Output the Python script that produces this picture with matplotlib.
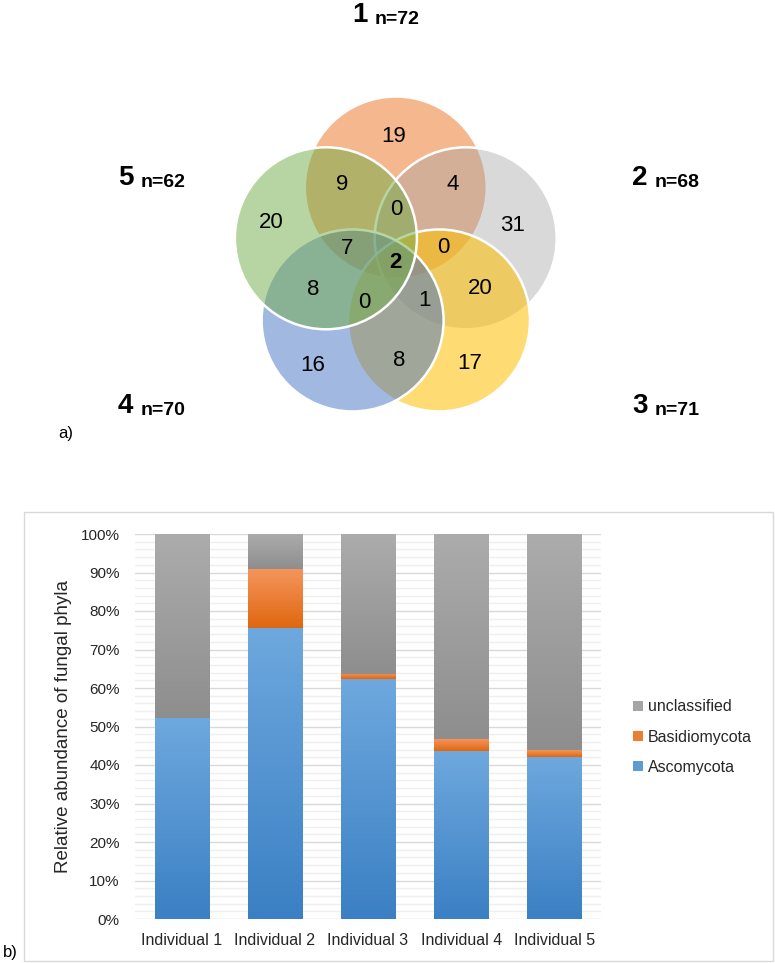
import numpy as np
import matplotlib
matplotlib.use('Agg')
import matplotlib.pyplot as plt
from matplotlib.patches import Circle, Rectangle, Patch
from matplotlib.colors import LinearSegmentedColormap, to_rgba
from matplotlib.ticker import MultipleLocator, FuncFormatter

plt.rcParams['font.family'] = ['Liberation Sans', 'DejaVu Sans']

# ---------------- Venn data ----------------
set_ids = ['1', '2', '3', '4', '5']
set_sizes = [72, 68, 71, 70, 62]
set_colors = ['#ED7D31', '#A5A5A5', '#FFC000', '#4472C4', '#70AD47']
set_alphas = [0.55, 0.42, 0.55, 0.50, 0.50]
region_counts = [19, 9, 4, 0, 20, 31, 7, 0, 2, 8, 20, 0, 1, 16, 8, 17]
region_bold = [False] * 8 + [True] + [False] * 7

# ---------------- Bar data ----------------
individuals = ['Individual 1', 'Individual 2', 'Individual 3', 'Individual 4', 'Individual 5']
ascomycota = [52.1, 75.6, 62.3, 43.6, 42.2]
basidiomycota = [0.0, 15.3, 1.3, 3.1, 1.8]
unclassified = [47.9, 9.1, 36.4, 53.3, 56.0]
phyla = ['Ascomycota', 'Basidiomycota', 'unclassified']

W, H = 775, 963
fig = plt.figure(figsize=(W / 100, H / 100), dpi=100)

# ---------------- Venn panel (pixel coordinates) ----------------
VH = 450
axv = fig.add_axes([0, 1 - VH / H, 1, VH / H])
axv.set_xlim(0, W)
axv.set_ylim(VH, 0)
axv.axis('off')

cx, cy = 395.8, 261.0
R, r = 73.5, 91.0
angles = [90, 18, -54, -126, 162]
centers = [(cx + R * np.cos(np.radians(a)), cy - R * np.sin(np.radians(a))) for a in angles]
draw_order = [0, 1, 2, 3, 4]
for z, i in enumerate(draw_order):
    c = Circle(centers[i], r, facecolor=to_rgba(set_colors[i], set_alphas[i]),
               edgecolor='white', linewidth=1.8, zorder=2 + z)
    axv.add_patch(c)

region_pos = [(394, 136), (342, 185), (453, 184), (396, 209), (271, 222), (513, 225),
              (347, 248), (443, 247), (395, 262), (313, 289), (480, 288), (364, 302),
              (425, 300), (313, 365), (399, 360), (470, 363)]
for cnt, (x, y), b in zip(region_counts, region_pos, region_bold):
    axv.text(x, y, str(cnt), ha='center', va='center', fontsize=16,
             fontweight='bold' if b else 'normal', color='black', zorder=20)

label_pos = [(352, 22), (632, 185), (632, 413), (118, 413), (118, 185)]
for sid, n, (x, y) in zip(set_ids, set_sizes, label_pos):
    t = axv.text(x, y, sid, ha='left', va='baseline', fontsize=20, fontweight='bold')
    axv.annotate(f'n={n}', xy=(1, 0), xycoords=t, xytext=(5, 0), textcoords='offset points',
                 ha='left', va='bottom', fontsize=14, fontweight='bold')

axv.text(58, 433, 'a)', ha='left', va='center', fontsize=12)

# ---------------- Bar panel ----------------
fig.patches.append(Rectangle((24 / W, 1 - 961 / H), (773 - 24) / W, (961 - 512) / H,
                             transform=fig.transFigure, facecolor='none',
                             edgecolor='#D9D9D9', linewidth=1.0))
fig.text(3 / W, 1 - 952 / H, 'b)', ha='left', va='center', fontsize=12)

L, Rr, T, B = 135, 601, 534, 919
ax = fig.add_axes([L / W, 1 - B / H, (Rr - L) / W, (B - T) / H])
x = np.arange(len(individuals))
bw = 0.58
b1 = ax.bar(x, ascomycota, bw, color='#5B9BD5', label=phyla[0], zorder=3)
b2 = ax.bar(x, basidiomycota, bw, bottom=ascomycota, color='#ED7D31', label=phyla[1], zorder=3)
bot3 = [a + b for a, b in zip(ascomycota, basidiomycota)]
b3 = ax.bar(x, unclassified, bw, bottom=bot3, color='#A5A5A5', label=phyla[2], zorder=3)


def shade(rects, top, bottom):
    cmap = LinearSegmentedColormap.from_list('g', [bottom, top])
    grad = np.linspace(0, 1, 256).reshape(-1, 1)
    for rc in rects:
        h = rc.get_height()
        if h <= 0:
            rc.set_visible(False)
            continue
        x0, w, y0 = rc.get_x(), rc.get_width(), rc.get_y()
        im = ax.imshow(grad, extent=[x0, x0 + w, y0, y0 + h], origin='lower', cmap=cmap,
                       aspect='auto', zorder=3, interpolation='bilinear')
        im.set_clip_path(rc)
        rc.set_facecolor('none')
        rc.set_edgecolor('none')


shade(b1, '#6EA8DE', '#3B80C4')
shade(b2, '#F4955C', '#E0670F')
shade(b3, '#ACACAC', '#8E8E8E')

ax.set_xlim(-0.5, len(individuals) - 0.5)
ax.set_ylim(0, 100)
ax.set_aspect('auto')
ax.yaxis.set_major_locator(MultipleLocator(10))
ax.yaxis.set_minor_locator(MultipleLocator(2))
ax.yaxis.set_major_formatter(FuncFormatter(lambda v, p: f'{v:.0f}%'))
ax.grid(axis='y', which='major', color='#D9D9D9', linewidth=1.0, zorder=0)
ax.grid(axis='y', which='minor', color='#EFEFEF', linewidth=1.0, zorder=0)
ax.set_axisbelow(True)
for s in ax.spines.values():
    s.set_visible(False)
ax.tick_params(axis='both', which='both', length=0)
ax.tick_params(axis='y', pad=11, labelsize=11, labelcolor='#262626')
ax.tick_params(axis='x', pad=10, labelsize=11.5, labelcolor='#262626')
ax.set_xticks(x)
ax.set_xticklabels(individuals)
ax.set_ylabel('Relative abundance of fungal phyla', fontsize=13.5, color='#262626')
ax.yaxis.set_label_coords((72 - L) / (Rr - L), 0.5)

hs = [Patch(facecolor='#A5A5A5'), Patch(facecolor='#ED7D31'), Patch(facecolor='#5B9BD5')]
fig.legend(hs, [phyla[2], phyla[1], phyla[0]], loc='center left',
           bbox_to_anchor=(619 / W, 1 - 737 / H), frameon=False, fontsize=11.5,
           handlelength=0.6, handleheight=0.6, handletextpad=0.3, labelspacing=0.95,
           labelcolor='#262626')

fig.savefig('out.png', dpi=100)
